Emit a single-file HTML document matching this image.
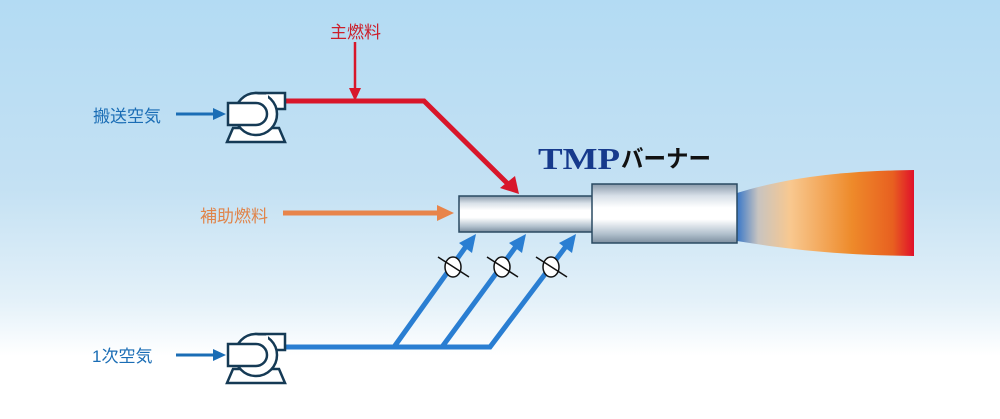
<!DOCTYPE html>
<html><head><meta charset="utf-8"><style>
html,body{margin:0;padding:0;width:1000px;height:419px;overflow:hidden}
svg{display:block}
text{font-family:"Liberation Sans","Noto Sans CJK JP",sans-serif}
</style></head><body>
<svg width="1000" height="419" viewBox="0 0 1000 419">
<defs>
<linearGradient id="bg" x1="0" y1="0" x2="0" y2="1">
<stop offset="0" stop-color="#b3dbf3"/><stop offset="0.45" stop-color="#c4e1f3"/><stop offset="0.72" stop-color="#e4f1f9"/><stop offset="0.85" stop-color="#ffffff"/><stop offset="1" stop-color="#ffffff"/>
</linearGradient>
<linearGradient id="tube" x1="0" y1="0" x2="0" y2="1">
<stop offset="0" stop-color="#8a9aaa"/><stop offset="0.2" stop-color="#d8e0e8"/><stop offset="0.4" stop-color="#ffffff"/><stop offset="0.6" stop-color="#ffffff"/><stop offset="0.85" stop-color="#b0bfcc"/><stop offset="1" stop-color="#7d8fa0"/>
</linearGradient>
<linearGradient id="flame" x1="0" y1="0" x2="1" y2="0">
<stop offset="0" stop-color="#3a78c8"/><stop offset="0.12" stop-color="#c8c4c0"/><stop offset="0.3" stop-color="#f8c890"/><stop offset="0.65" stop-color="#ee8a2a"/><stop offset="0.88" stop-color="#e86020"/><stop offset="1" stop-color="#e0102a"/>
</linearGradient>
<g id="pump">
<path d="M233,128 L279,128 L285,142 L227,142 Z" fill="#fff" stroke="#153a55" stroke-width="2.5"/>
<rect x="256" y="93" width="29" height="16" fill="#fff" stroke="#153a55" stroke-width="2.5"/>
<circle cx="256" cy="114" r="21" fill="#fff" stroke="#153a55" stroke-width="2.5"/>
<rect x="258" y="94.5" width="10" height="13" fill="#fff"/>
<path d="M228,103 L256,103 A11,11 0 0 1 256,125 L228,125 Z" fill="#fff" stroke="#153a55" stroke-width="2.5"/>
</g>
</defs>
<rect width="1000" height="419" fill="url(#bg)"/>

<text x="330" y="38" font-size="17" fill="#cc1f2a">主燃料</text>
<text x="93" y="122" font-size="17" fill="#1a6db5">搬送空気</text>
<text x="200" y="222" font-size="17" fill="#e0844a">補助燃料</text>
<text x="92" y="362" font-size="17" fill="#1a6db5">1次空気</text>
<text x="538" y="169" font-size="31" font-weight="bold" fill="#163a8c" style="font-family:'Liberation Serif',serif" textLength="82" lengthAdjust="spacingAndGlyphs">TMP</text>
<text x="621" y="167" font-size="24" font-weight="bold" fill="#111" textLength="90" lengthAdjust="spacingAndGlyphs">バーナー</text>

<line x1="355" y1="42" x2="355" y2="92" stroke="#d8162a" stroke-width="2.5"/>
<path d="M349,88 L361,88 L355,101 Z" fill="#d8162a"/>
<polyline points="285,101 424,101 507,183" fill="none" stroke="#d8162a" stroke-width="5"/>
<path d="M500,188 L515,176 L519,194 Z" fill="#d8162a"/>

<line x1="176" y1="114" x2="215" y2="114" stroke="#1a6db5" stroke-width="3"/>
<path d="M213,108 L226,114 L213,120 Z" fill="#1a6db5"/>
<line x1="176" y1="355" x2="215" y2="355" stroke="#1a6db5" stroke-width="3"/>
<path d="M213,349 L226,355 L213,361 Z" fill="#1a6db5"/>

<line x1="283" y1="213" x2="440" y2="213" stroke="#e8844a" stroke-width="5"/>
<path d="M437,205 L454,213 L437,221 Z" fill="#e8844a"/>

<g stroke="#2a7ed2" stroke-width="5" fill="none">
<polyline points="285,347 490,347 567,245"/>
<line x1="394" y1="347" x2="467" y2="245"/>
<line x1="442" y1="347" x2="517" y2="245"/>
</g>
<g fill="#2a7ed2">
<path d="M459,243 L476,234 L472,253 Z"/>
<path d="M509,243 L526,234 L522,253 Z"/>
<path d="M559,243 L576,234 L572,253 Z"/>
</g>
<g stroke="#111" stroke-width="1.5" fill="#fff">
<ellipse cx="453" cy="267" rx="8" ry="10"/><line x1="438" y1="257" x2="469" y2="277"/>
<ellipse cx="502" cy="267" rx="8" ry="10"/><line x1="487" y1="257" x2="518" y2="277"/>
<ellipse cx="551" cy="267" rx="8" ry="10"/><line x1="536" y1="257" x2="567" y2="277"/>
</g>

<use href="#pump"/>
<use href="#pump" y="241"/>

<path d="M737,193 C780,180 830,171 914,170 L914,256 C830,255 780,248 737,241 Z" fill="url(#flame)"/>
<rect x="459" y="196" width="134" height="36" fill="url(#tube)" stroke="#2a4a62" stroke-width="1.5"/>
<rect x="592" y="184" width="145" height="59" fill="url(#tube)" stroke="#2a4a62" stroke-width="1.5"/>
</svg>
</body></html>
